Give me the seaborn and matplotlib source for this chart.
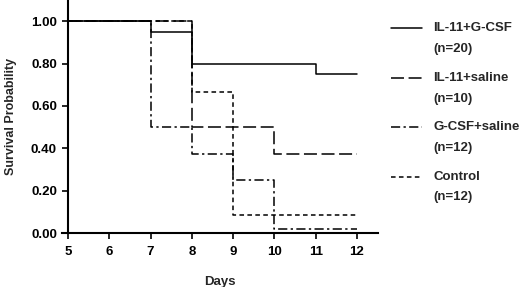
import numpy as np
import pandas as pd
import matplotlib
matplotlib.use("Agg")
import matplotlib.pyplot as plt
import seaborn as sns
from matplotlib.lines import Line2D

# Kaplan-Meier step values
groups = ["IL-11+G-CSF", "IL-11+saline", "G-CSF+saline", "Control"]
group_n = [20, 10, 12, 12]
days_il11_gcsf = [5, 7, 8, 11, 12]
surv_il11_gcsf = [1.00, 0.95, 0.80, 0.75, 0.75]
days_il11_saline = [5, 8, 10, 12]
surv_il11_saline = [1.00, 0.50, 0.375, 0.375]
days_gcsf_saline = [5, 7, 8, 9, 10, 12]
surv_gcsf_saline = [1.00, 0.50, 0.375, 0.25, 0.02, 0.02]
days_control = [5, 8, 9, 12]
surv_control = [1.00, 0.667, 0.083, 0.083]

x_ticks = [5, 6, 7, 8, 9, 10, 11, 12]
y_ticks = [0.0, 0.2, 0.4, 0.6, 0.8, 1.0]

all_days = [days_il11_gcsf, days_il11_saline, days_gcsf_saline, days_control]
all_surv = [surv_il11_gcsf, surv_il11_saline, surv_gcsf_saline, surv_control]
rows = []
for g, d, s in zip(groups, all_days, all_surv):
    for di, si in zip(d, s):
        rows.append({"group": g, "day": di, "surv": si})
df = pd.DataFrame(rows)

dash_styles = {
    "IL-11+G-CSF": "",
    "IL-11+saline": (8.5, 3),
    "G-CSF+saline": (6, 2.2, 1.5, 2.2),
    "Control": (3, 2.2),
}

sns.set_style("white")
plt.rcParams['font.family'] = ['Liberation Sans', 'DejaVu Sans']
plt.rcParams['font.weight'] = 'bold'

fig = plt.figure(figsize=(5.2, 2.87), dpi=100)
ax = fig.add_axes([0.119, 0.188, 0.607, 0.812])

sns.lineplot(data=df, x="day", y="surv", style="group", dashes=dash_styles,
             color="black", linewidth=1.1, drawstyle="steps-post",
             estimator=None, sort=False, legend=False, ax=ax)

ax.set_xlim(4.85, 12.5)
ax.set_ylim(0, 1.1)
ax.spines['left'].set_position(('data', 5))
for side in ['top', 'right']:
    ax.spines[side].set_visible(False)
for side in ['left', 'bottom']:
    ax.spines[side].set_linewidth(1.5)
    ax.spines[side].set_color('black')

ax.set_xticks(x_ticks)
ax.set_xticklabels([str(t) for t in x_ticks])
ax.set_yticks(y_ticks)
ax.set_yticklabels([f"{t:.2f}" for t in y_ticks])
ax.tick_params(axis='both', direction='out', length=4, width=1.2,
               labelsize=9.5, colors='black', bottom=True, left=True)
ax.tick_params(axis='y', pad=4)
ax.tick_params(axis='x', pad=5)
for lab in ax.get_xticklabels() + ax.get_yticklabels():
    lab.set_fontweight('bold')

ax.set_xlabel("Days", fontsize=9.5, fontweight='bold', labelpad=13)
ax.set_ylabel("Survival Probability", fontsize=9, fontweight='bold')
ax.yaxis.set_label_coords(-0.142, 0.5)

# legend drawn manually: handle aligned with the first label line
leg_y = [0.902, 0.728, 0.558, 0.385]
for g, n, y in zip(groups, group_n, leg_y):
    ls = dash_styles[g]
    line = Line2D([0.752, 0.812], [y, y], transform=fig.transFigure,
                  color='black', linewidth=1.1)
    if ls:
        line.set_dashes(ls)
    fig.add_artist(line)
    fig.text(0.833, y, g, fontsize=9.5, fontweight='bold', va='center')
    fig.text(0.833, y - 0.073, f"(n={n})", fontsize=9.5, fontweight='bold', va='center')

fig.savefig("out.png", dpi=100)
